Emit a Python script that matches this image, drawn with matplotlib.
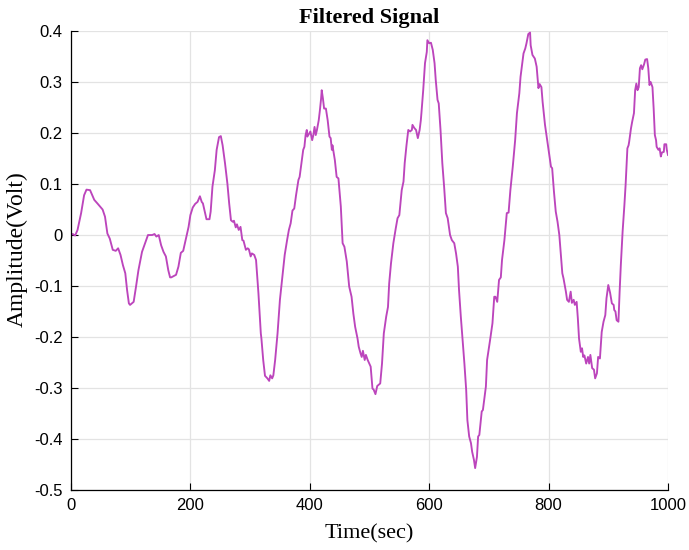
import numpy as np
import matplotlib.pyplot as plt

# ── Filtered signal samples (time in sec, amplitude in volt) ────────────────
time_sec = [
    0, 3, 7, 11, 17, 22, 26, 32, 39, 45, 53, 57, 61, 65, 70, 75, 79, 83, 87,
    91, 94, 97, 99, 105, 109, 113, 119, 126, 129, 136, 140, 143, 147, 151,
    155, 159, 163, 166, 168, 176, 180, 184, 188, 192, 197, 200, 204, 208,
    212, 216, 219, 221, 224, 227, 232, 234, 237, 241, 244, 248, 251, 254,
    258, 262, 265, 268, 271, 273, 276, 278, 281, 284, 287, 289, 293, 296,
    298, 301, 303, 307, 310, 314, 318, 319, 322, 325, 329, 332, 334, 337,
    339, 342, 346, 350, 354, 358, 362, 365, 368, 371, 374, 377, 381, 383,
    386, 389, 391, 393, 395, 396, 399, 401, 404, 406, 408, 410, 412, 415,
    417, 419, 420, 422, 424, 427, 430, 433, 435, 437, 438, 442, 445, 448,
    452, 455, 458, 462, 466, 470, 473, 476, 480, 482, 485, 487, 489, 492,
    494, 497, 502, 505, 507, 510, 513, 518, 521, 524, 528, 531, 533, 536,
    540, 544, 547, 550, 554, 557, 559, 562, 565, 568, 571, 572, 575, 578,
    581, 584, 586, 587, 590, 593, 596, 597, 600, 603, 606, 609, 611, 614,
    616, 619, 622, 625, 628, 631, 633, 635, 638, 642, 645, 648, 650, 653,
    656, 659, 662, 664, 667, 670, 672, 675, 677, 680, 682, 684, 688, 690,
    695, 697, 702, 706, 709, 711, 714, 717, 720, 722, 726, 730, 733, 736,
    740, 744, 747, 751, 753, 756, 758, 761, 763, 766, 769, 770, 773, 777,
    780, 783, 785, 788, 790, 794, 798, 801, 804, 806, 809, 812, 815, 818,
    821, 823, 825, 829, 831, 834, 837, 839, 842, 844, 847, 849, 851, 854,
    856, 858, 860, 863, 866, 868, 870, 873, 876, 878, 881, 883, 886, 889,
    892, 895, 897, 900, 903, 906, 909, 910, 912, 914, 917, 919, 921, 924,
    927, 929, 932, 934, 935, 938, 940, 943, 945, 947, 949, 951, 953, 955,
    957, 960, 962, 965, 967, 969, 971, 974, 976, 978, 980, 981, 984, 986,
    988, 990, 993, 994, 997, 998, 1000,
]
amplitude = [
    0.000, 0.002, -0.001, 0.010, 0.043, 0.078, 0.089, 0.088, 0.069, 0.061,
    0.050, 0.036, 0.003, -0.007, -0.029, -0.031, -0.026, -0.039, -0.059,
    -0.075, -0.108, -0.134, -0.137, -0.131, -0.101, -0.069, -0.033, -0.010,
    0.000, 0.000, 0.002, -0.003, 0.000, -0.020, -0.033, -0.042, -0.069,
    -0.083, -0.083, -0.078, -0.062, -0.035, -0.031, -0.010, 0.016, 0.039,
    0.054, 0.061, 0.065, 0.076, 0.065, 0.062, 0.046, 0.031, 0.031, 0.046,
    0.095, 0.127, 0.167, 0.192, 0.194, 0.176, 0.141, 0.101, 0.062, 0.029,
    0.026, 0.028, 0.015, 0.021, 0.010, 0.016, -0.010, -0.011, -0.029,
    -0.026, -0.028, -0.042, -0.036, -0.039, -0.049, -0.114, -0.193,
    -0.203, -0.245, -0.276, -0.281, -0.286, -0.275, -0.281, -0.275,
    -0.245, -0.193, -0.127, -0.082, -0.039, -0.010, 0.010, 0.023, 0.048,
    0.052, 0.078, 0.108, 0.114, 0.141, 0.167, 0.173, 0.196, 0.206, 0.193,
    0.199, 0.203, 0.186, 0.196, 0.212, 0.196, 0.206, 0.225, 0.245, 0.268,
    0.284, 0.268, 0.248, 0.248, 0.225, 0.193, 0.190, 0.167, 0.176, 0.147,
    0.114, 0.111, 0.056, -0.016, -0.023, -0.052, -0.101, -0.121, -0.154,
    -0.180, -0.203, -0.219, -0.232, -0.239, -0.227, -0.245, -0.235,
    -0.245, -0.258, -0.301, -0.303, -0.312, -0.296, -0.291, -0.252,
    -0.193, -0.160, -0.141, -0.095, -0.056, -0.016, 0.013, 0.033, 0.039,
    0.088, 0.105, 0.141, 0.176, 0.206, 0.203, 0.206, 0.216, 0.210, 0.206,
    0.190, 0.206, 0.225, 0.239, 0.284, 0.337, 0.359, 0.382, 0.376, 0.377,
    0.363, 0.337, 0.304, 0.265, 0.258, 0.206, 0.141, 0.095, 0.043, 0.033,
    0.016, 0.000, -0.010, -0.016, -0.036, -0.062, -0.108, -0.160, -0.206,
    -0.252, -0.304, -0.363, -0.395, -0.408, -0.425, -0.441, -0.457,
    -0.435, -0.395, -0.392, -0.346, -0.343, -0.297, -0.245, -0.206,
    -0.173, -0.121, -0.121, -0.131, -0.088, -0.083, -0.049, -0.010, 0.043,
    0.044, 0.088, 0.134, 0.186, 0.239, 0.278, 0.310, 0.337, 0.356, 0.366,
    0.376, 0.394, 0.397, 0.372, 0.353, 0.346, 0.330, 0.288, 0.296, 0.290,
    0.261, 0.216, 0.183, 0.157, 0.134, 0.131, 0.085, 0.046, 0.026, 0.000,
    -0.046, -0.075, -0.085, -0.111, -0.127, -0.131, -0.111, -0.133,
    -0.127, -0.137, -0.131, -0.163, -0.203, -0.229, -0.222, -0.239,
    -0.236, -0.252, -0.239, -0.252, -0.235, -0.261, -0.264, -0.281,
    -0.271, -0.239, -0.242, -0.190, -0.170, -0.157, -0.124, -0.098,
    -0.113, -0.134, -0.137, -0.147, -0.150, -0.167, -0.170, -0.111,
    -0.059, 0.007, 0.059, 0.098, 0.170, 0.176, 0.183, 0.209, 0.222, 0.239,
    0.284, 0.297, 0.284, 0.290, 0.327, 0.333, 0.325, 0.335, 0.344, 0.345,
    0.327, 0.294, 0.300, 0.290, 0.248, 0.196, 0.186, 0.173, 0.167, 0.170,
    0.154, 0.162, 0.163, 0.178, 0.178, 0.167, 0.157,
]

x_ticks = [0, 200, 400, 600, 800, 1000]
y_ticks = [-0.5, -0.4, -0.3, -0.2, -0.1, 0, 0.1, 0.2, 0.3, 0.4]
y_tick_labels = ['-0.5', '-0.4', '-0.3', '-0.2', '-0.1', '0',
                 '0.1', '0.2', '0.3', '0.4']

# ── Figure ──────────────────────────────────────────────────────────────────
fig = plt.figure(figsize=(6.89, 5.5), dpi=100)
ax = fig.add_axes([0.103, 0.109, 0.8665, 0.8346])

ax.plot(time_sec, amplitude, color='#BC45BC', linewidth=1.35)

ax.set_xlim(0, 1000)
ax.set_ylim(-0.5, 0.4)
ax.set_xticks(x_ticks)
ax.set_yticks(y_ticks)
ax.set_yticklabels(y_tick_labels)

ax.grid(True, color='#e3e3e3', linewidth=0.9)
ax.set_axisbelow(True)

for side in ['top', 'right']:
    ax.spines[side].set_visible(False)
for side in ['left', 'bottom']:
    ax.spines[side].set_color('black')
    ax.spines[side].set_linewidth(0.9)

ax.tick_params(direction='in', length=5, width=0.8, colors='black',
               labelsize=12, pad=6)
for lbl in ax.get_xticklabels() + ax.get_yticklabels():
    lbl.set_family('Liberation Sans')

serif = 'Liberation Serif'
ax.set_title('Filtered Signal', fontsize=16, fontweight='bold',
             family=serif, pad=6)
ax.set_xlabel('Time(sec)', fontsize=16, family=serif, labelpad=8)
ax.set_ylabel('Amplitude(Volt)', fontsize=17, family=serif)
ax.yaxis.set_label_coords(-0.072, 0.525)

plt.savefig('out.png', dpi=100)
plt.close()
